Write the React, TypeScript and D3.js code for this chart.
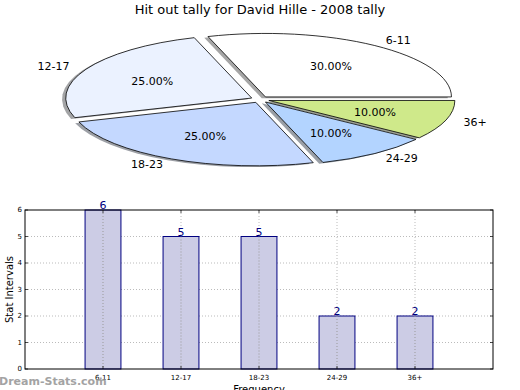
import React from 'react';
import * as d3 from 'd3';

const categories = ['6-11', '12-17', '18-23', '24-29', '36+'];
const tally = [6, 5, 5, 2, 2];
const sliceColors = ['#ffffff', '#ebf2ff', '#c4d8ff', '#b3d4ff', '#cfe98a'];
const yTicks = [0, 1, 2, 3, 4, 5, 6];

const W = 520;
const H = 390;
const FONT = 'DejaVu Sans, sans-serif';

// pie geometry (matplotlib-ish: starts at 3 o'clock, counter-clockwise, stretched)
const PIE = { cx: 260, cy: 99.5, rx: 186, ry: 63.5, explode: 0.05, shadow: 0.02 };
// bar axes box
const M = { left: 25, right: 493, top: 210, bottom: 369 };

function shade(c: string) {
  const rgb = d3.rgb(c);
  return `rgb(${rgb.r * 0.3},${rgb.g * 0.3},${rgb.b * 0.3})`;
}

export default function App() {
  const total = d3.sum(tally);
  const arc = d3.arc<any>().innerRadius(0).outerRadius(1);

  let acc = 0;
  const slices = tally.map((v, i) => {
    const t1 = (acc / total) * 2 * Math.PI;
    acc += v;
    const t2 = (acc / total) * 2 * Math.PI;
    const mid = (t1 + t2) / 2;
    const ox = PIE.explode * Math.cos(mid);
    const oy = -PIE.explode * Math.sin(mid);
    const d = arc({ startAngle: Math.PI / 2 - t2, endAngle: Math.PI / 2 - t1 }) as string;
    return { i, v, t1, t2, mid, ox, oy, d };
  });

  const px = (u: number) => PIE.cx + u * PIE.rx;
  const py = (u: number) => PIE.cy + u * PIE.ry;

  const x = d3.scaleLinear().domain([0, categories.length + 1]).range([M.left, M.right]);
  const y = d3.scaleLinear().domain([0, 6]).range([M.bottom, M.top]);
  const bw = 0.46;

  return (
    <svg width={W} height={H} style={{ position: 'absolute', left: 0, top: 0, background: '#fff' }} fontFamily={FONT}>
      <text x={260} y={14} textAnchor="middle" fontSize={13} fill="#000">
        Hit out tally for David Hille - 2008 tally
      </text>

      {/* shadows */}
      {slices.map(s => (
        <path key={'sh' + s.i} d={s.d}
          transform={`translate(${px(s.ox - PIE.shadow)},${py(s.oy + PIE.shadow)}) scale(${PIE.rx},${PIE.ry})`}
          fill={shade(sliceColors[s.i])} fillOpacity={0.5} stroke="none" />
      ))}
      {/* wedges */}
      {slices.map(s => (
        <path key={'w' + s.i} d={s.d}
          transform={`translate(${px(s.ox)},${py(s.oy)}) scale(${PIE.rx},${PIE.ry})`}
          fill={sliceColors[s.i]} stroke="#000" strokeWidth={0.8} vectorEffect="non-scaling-stroke" />
      ))}
      {/* labels */}
      {slices.map(s => {
        const lx = px(s.ox + 1.1 * Math.cos(s.mid));
        const ly = py(s.oy - 1.1 * Math.sin(s.mid));
        const ax = px(s.ox + 0.6 * Math.cos(s.mid));
        const ay = py(s.oy - 0.6 * Math.sin(s.mid));
        return (
          <g key={'l' + s.i} fontSize={11} fill="#000">
            <text x={lx} y={ly} dy="0.35em" textAnchor={Math.cos(s.mid) >= 0 ? 'start' : 'end'}>{categories[s.i]}</text>
            <text x={ax} y={ay} dy="0.35em" textAnchor="middle">{((s.v / total) * 100).toFixed(2)}%</text>
          </g>
        );
      })}

      {/* bar chart grid */}
      <g stroke="#bbbbbb" strokeWidth={1} strokeDasharray="1,2">
        {yTicks.slice(1, -1).map(t => (
          <line key={'gy' + t} x1={M.left} x2={M.right} y1={y(t)} y2={y(t)} />
        ))}
        {categories.map((c, i) => (
          <line key={'gx' + c} x1={x(i + 1)} x2={x(i + 1)} y1={M.top} y2={M.bottom} />
        ))}
      </g>

      {/* bars */}
      {tally.map((v, i) => (
        <g key={'b' + i}>
          <rect x={x(i + 1 - bw / 2)} y={y(v)} width={x(bw) - x(0)} height={y(0) - y(v)}
            fill="#ccccE5" stroke="#000080" strokeWidth={1} />
          <line x1={x(i + 1)} x2={x(i + 1)} y1={y(v)} y2={M.bottom} stroke="#999" strokeDasharray="1,2" strokeWidth={1} />
          <text x={x(i + 1)} y={y(v) - 1} textAnchor="middle" fontSize={11} fill="#000080">{v}</text>
        </g>
      ))}

      {/* axes frame */}
      <rect x={M.left} y={M.top} width={M.right - M.left} height={M.bottom - M.top} fill="none" stroke="#000" strokeWidth={1} />

      {/* y ticks */}
      {yTicks.map(t => (
        <g key={'yt' + t}>
          <line x1={M.left} x2={M.left + 3} y1={y(t)} y2={y(t)} stroke="#000" strokeWidth={0.7} />
          <line x1={M.right - 3} x2={M.right} y1={y(t)} y2={y(t)} stroke="#000" strokeWidth={0.7} />
          <text x={M.left - 3} y={y(t)} dy="0.35em" textAnchor="end" fontSize={7} fill="#000">{t}</text>
        </g>
      ))}
      {/* x ticks */}
      {categories.map((c, i) => (
        <g key={'xt' + c}>
          <line x1={x(i + 1)} x2={x(i + 1)} y1={M.bottom} y2={M.bottom - 3} stroke="#000" strokeWidth={0.7} />
          <line x1={x(i + 1)} x2={x(i + 1)} y1={M.top} y2={M.top + 3} stroke="#000" strokeWidth={0.7} />
          <text x={x(i + 1)} y={M.bottom + 11} textAnchor="middle" fontSize={7} fill="#000">{c}</text>
        </g>
      ))}

      <text transform={`translate(13,${(M.top + M.bottom) / 2}) rotate(-90)`} textAnchor="middle" fontSize={10} fill="#000">
        Stat Intervals
      </text>
      <text x={x(3)} y={393} textAnchor="middle" fontSize={10} fill="#000">Frequency</text>

      <text x={-1} y={385} fontSize={11} fontWeight="bold" fill="#9a9a9a" opacity={0.9}>
        Dream-Stats.com
      </text>
    </svg>
  );
}
